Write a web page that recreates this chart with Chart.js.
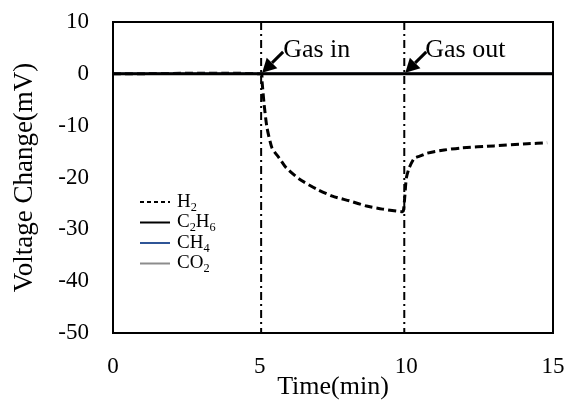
<!DOCTYPE html>
<html>
<head>
<meta charset="utf-8">
<script src="https://cdn.jsdelivr.net/npm/chart.js@4"></script>
<style>
    body { margin: 0; background: #fff; }
    canvas { display: block; }
</style>
</head>
<body>
<canvas id="voltageChart" width="567" height="403"></canvas>
<script>
// values
const h2Time = [0, 5.05, 5.08, 5.15, 5.25, 5.42, 5.66, 5.9, 6.35, 6.93, 7.48, 8.06, 8.64, 9.19, 9.84, 9.9, 9.95, 10.0, 10.1, 10.27, 10.5, 10.71, 11.29, 11.87, 12.99, 14.12, 14.8];
const h2Volt = [0, 0, -1.4, -5.8, -10.4, -14.3, -16.2, -18.1, -20.3, -22.2, -23.6, -24.5, -25.5, -26.1, -26.6, -26.4, -23.5, -20.1, -18.1, -16.3, -15.8, -15.3, -14.7, -14.3, -13.9, -13.5, -13.3];
const baseTime = [0, 15];
const c2h6Volt = [0, 0];
const ch4Volt = [0, 0];
const co2Volt = [0, 0];
const gasInTime = 5.05;
const gasOutTime = 9.93;
const yTicks = [10, 0, -10, -20, -30, -40, -50];

const FONT = "'Liberation Serif', 'Times New Roman', serif";

const toPoints = (xs, ys) => xs.map((x, i) => ({ x: x, y: ys[i] }));

// legend entries, names split into [text, isSubscript] parts
const legendItems = [
    { parts: [['H', false], ['2', true]], color: '#000000', dash: [4, 3], width: 2 },
    { parts: [['C', false], ['2', true], ['H', false], ['6', true]], color: '#000000', dash: [], width: 2 },
    { parts: [['CH', false], ['4', true]], color: '#2F5597', dash: [], width: 2 },
    { parts: [['CO', false], ['2', true]], color: '#8C8C8C', dash: [], width: 2 }
];

const drawRichText = (ctx, parts, x, y, size) => {
    parts.forEach(([txt, sub]) => {
        ctx.font = (sub ? size * 0.65 : size) + 'px ' + FONT;
        ctx.fillText(txt, x, sub ? y + size * 0.28 : y);
        x += ctx.measureText(txt).width;
    });
};

const drawArrow = (ctx, fromX, fromY, toX, toY) => {
    const ang = Math.atan2(toY - fromY, toX - fromX);
    const headLen = 14;
    const headW = 7.5;
    const bx = toX - headLen * Math.cos(ang);
    const by = toY - headLen * Math.sin(ang);
    ctx.beginPath();
    ctx.lineWidth = 3;
    ctx.moveTo(fromX, fromY);
    ctx.lineTo(bx, by);
    ctx.stroke();
    ctx.beginPath();
    ctx.moveTo(toX, toY);
    ctx.lineTo(bx + headW * Math.sin(ang), by - headW * Math.cos(ang));
    ctx.lineTo(bx - headW * Math.sin(ang), by + headW * Math.cos(ang));
    ctx.closePath();
    ctx.fill();
};

const extrasPlugin = {
    id: 'extras',
    afterDatasetsDraw(chart) {
        const { ctx, chartArea: a, scales: { x, y } } = chart;
        ctx.save();
        // frame
        ctx.strokeStyle = '#000';
        ctx.lineWidth = 2;
        ctx.strokeRect(a.left, a.top, a.right - a.left, a.bottom - a.top);

        // arrows + labels
        ctx.fillStyle = '#000';
        ctx.strokeStyle = '#000';
        const zeroY = y.getPixelForValue(0);
        const inX = x.getPixelForValue(gasInTime);
        const outX = x.getPixelForValue(gasOutTime);
        drawArrow(ctx, inX + 22, zeroY - 22, inX + 1, zeroY - 1);
        drawArrow(ctx, outX + 22, zeroY - 22, outX + 1, zeroY - 1);
        ctx.font = '26px ' + FONT;
        ctx.textBaseline = 'middle';
        ctx.textAlign = 'left';
        ctx.fillText('Gas in', inX + 22, zeroY - 24);
        ctx.fillText('Gas out', outX + 21, zeroY - 24);

        // legend
        const lx = a.left + 27;
        let ly = a.top + 180;
        legendItems.forEach(item => {
            ctx.beginPath();
            ctx.setLineDash(item.dash);
            ctx.lineWidth = item.width;
            ctx.strokeStyle = item.color;
            ctx.moveTo(lx, ly);
            ctx.lineTo(lx + 30, ly);
            ctx.stroke();
            ctx.setLineDash([]);
            ctx.fillStyle = '#000';
            ctx.textBaseline = 'middle';
            drawRichText(ctx, item.parts, lx + 37, ly, 19);
            ly += 20.5;
        });
        ctx.restore();
    }
};

new Chart(document.getElementById('voltageChart'), {
    type: 'line',
    data: {
        datasets: [
            {
                label: 'H2',
                data: toPoints(h2Time, h2Volt),
                borderColor: '#000',
                borderWidth: 3,
                borderDash: [8, 4],
                pointRadius: 0,
                tension: 0.2,
                order: 1 // drawn under the flat C2H6 line
            },
            {
                label: 'C2H6',
                data: toPoints(baseTime, c2h6Volt),
                borderColor: '#000',
                borderWidth: 3,
                pointRadius: 0
            },
            {
                label: 'CH4',
                data: toPoints(baseTime, ch4Volt),
                borderColor: '#2F5597',
                borderWidth: 2,
                pointRadius: 0
            },
            {
                label: 'CO2',
                data: toPoints(baseTime, co2Volt),
                borderColor: '#8C8C8C',
                borderWidth: 2,
                pointRadius: 0
            },
            {
                label: 'gas in',
                data: [{ x: gasInTime, y: 10 }, { x: gasInTime, y: -50 }],
                borderColor: '#000',
                borderWidth: 2,
                borderDash: [8, 4, 2, 4],
                pointRadius: 0,
                order: 2
            },
            {
                label: 'gas out',
                data: [{ x: gasOutTime, y: 10 }, { x: gasOutTime, y: -50 }],
                borderColor: '#000',
                borderWidth: 2,
                borderDash: [8, 4, 2, 4],
                pointRadius: 0,
                order: 2
            }
        ]
    },
    options: {
        responsive: false,
        animation: false,
        layout: { padding: { top: 22, right: 14, bottom: 0, left: 0 } },
        plugins: {
            legend: { display: false },
            tooltip: { enabled: false }
        },
        scales: {
            x: {
                type: 'linear',
                min: 0,
                max: 15,
                afterFit: scale => {
                    scale.height = 70;
                    scale.paddingLeft = 0;
                    scale.paddingRight = 0;
                },
                grid: { display: false, drawTicks: false },
                border: { display: false },
                ticks: {
                    stepSize: 5,
                    padding: 20,
                    color: '#000',
                    font: { family: FONT, size: 23 }
                },
                title: {
                    display: true,
                    text: 'Time(min)',
                    color: '#000',
                    padding: { top: 0, bottom: 0 },
                    font: { family: FONT, size: 26 }
                }
            },
            y: {
                min: -50,
                max: 10,
                afterFit: scale => {
                    scale.width = 113;
                    scale.paddingTop = 0;
                    scale.paddingBottom = 0;
                },
                afterBuildTicks: scale => { scale.ticks = yTicks.map(v => ({ value: v })); },
                grid: { display: false, drawTicks: false },
                border: { display: false },
                ticks: {
                    padding: 24,
                    color: '#000',
                    font: { family: FONT, size: 23 }
                },
                title: {
                    display: true,
                    text: 'Voltage Change(mV)',
                    color: '#000',
                    padding: { top: 9, bottom: 0 },
                    font: { family: FONT, size: 27 }
                }
            }
        }
    },
    plugins: [extrasPlugin]
});
</script>
</body>
</html>
